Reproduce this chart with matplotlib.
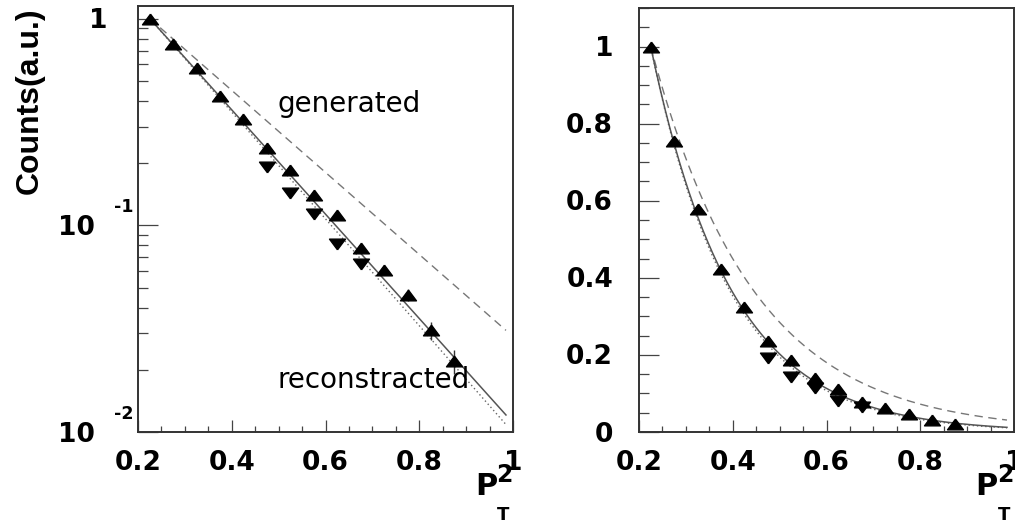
import numpy as np
import matplotlib
matplotlib.use("Agg")
import matplotlib.pyplot as plt
from matplotlib.ticker import MultipleLocator, LogLocator, NullFormatter

# ---- data: normalised P_T^2 spectra (bin centres, width 0.05) ----
pt2_up = [0.225, 0.275, 0.325, 0.375, 0.425, 0.475, 0.525,
          0.575, 0.625, 0.675, 0.725, 0.775, 0.825, 0.875]
counts_up = [1.0, 0.755, 0.578, 0.422, 0.325, 0.237, 0.186,
             0.140, 0.112, 0.078, 0.061, 0.046, 0.031, 0.022]
err_up = [0.003, 0.003, 0.003, 0.003, 0.003, 0.003, 0.003,
          0.003, 0.003, 0.003, 0.003, 0.003, 0.003, 0.003]

pt2_down = [0.475, 0.525, 0.575, 0.625, 0.675]
counts_down = [0.192, 0.143, 0.113, 0.081, 0.065]

# exponential fits  N = exp(-b (P_T^2 - x0))
fit_x0 = 0.225
fit_x1 = 0.985
slope_generated = 4.57      # dashed
slope_reconstructed = 5.81  # solid
slope_dotted = 5.95         # dotted

x_ticks = [0.2, 0.4, 0.6, 0.8, 1.0]
x_tick_labels = ["0.2", "0.4", "0.6", "0.8", "1"]
lin_y_ticks = [0.0, 0.2, 0.4, 0.6, 0.8, 1.0]
lin_y_tick_labels = ["0", "0.2", "0.4", "0.6", "0.8", "1"]
log_y_ticks = [1.0, 0.1, 0.01]
log_y_exponents = [None, "-1", "-2"]

# ---- figure layout (pixel based) ----
W, H = 1015, 523
fig = plt.figure(figsize=(W / 100, H / 100), dpi=100)


def px_axes(left, right, top, bottom):
    return fig.add_axes([left / W, 1 - bottom / H, (right - left) / W, (bottom - top) / H])


axL = px_axes(138, 513, 6, 432)
axR = px_axes(639, 1014, 8, 432)

FRAME = "#333333"
TICKC = "#444444"
BOLD = dict(family="DejaVu Sans", fontweight="bold")

up_tri = [(0, 0.67), (-1, -0.67), (1, -0.67), (0, 0.67)]
down_tri = [(0, -0.67), (-1, 0.67), (1, 0.67), (0, -0.67)]

xfit = np.linspace(fit_x0, fit_x1, 300)


def draw_panel(ax):
    ax.plot(xfit, np.exp(-slope_generated * (xfit - fit_x0)), color="#777777",
            lw=1.0, dashes=(6, 4), zorder=2)
    ax.plot(xfit, np.exp(-slope_dotted * (xfit - fit_x0)), color="#666666",
            lw=1.0, dashes=(1, 2), zorder=2)
    ax.plot(xfit, np.exp(-slope_reconstructed * (xfit - fit_x0)), color="#555555",
            lw=1.1, zorder=2)
    ax.errorbar(pt2_up, counts_up, yerr=err_up, fmt="none", ecolor="#333333",
                elinewidth=1.0, zorder=3)
    ax.plot(pt2_down, counts_down, linestyle="none", marker=down_tri,
            markersize=11.5, color="black", zorder=4)
    ax.plot(pt2_up, counts_up, linestyle="none", marker=up_tri,
            markersize=11.5, color="black", zorder=5)

    ax.set_xlim(0.2, 1.0)
    for sp in ax.spines.values():
        sp.set_color(FRAME)
        sp.set_linewidth(1.4)
    ax.xaxis.set_major_locator(MultipleLocator(0.2))
    ax.xaxis.set_minor_locator(MultipleLocator(0.05))
    ax.tick_params(axis="x", which="major", direction="in", length=8.6, width=0.9,
                   color=TICKC, top=False, labelbottom=False)
    ax.tick_params(axis="x", which="minor", direction="in", length=4.3, width=0.9,
                   color=TICKC, top=False)
    ax.tick_params(axis="y", which="major", direction="in", length=14.4, width=0.9,
                   color=TICKC, right=False, labelleft=False)
    ax.tick_params(axis="y", which="minor", direction="in", length=7.2, width=0.9,
                   color=TICKC, right=False)

    # x tick labels
    for v, s in zip(x_ticks, x_tick_labels):
        ax.annotate(s, xy=(v, 0), xycoords=("data", "axes fraction"),
                    xytext=(0, -38), textcoords="offset pixels",
                    ha="center", va="baseline", fontsize=19,
                    annotation_clip=False, **BOLD)

    # axis title  P_T^2
    ax.annotate("P", xy=(1, 0), xycoords="axes fraction", xytext=(-16, -63),
                textcoords="offset pixels", ha="right", va="baseline",
                fontsize=22, annotation_clip=False, **BOLD)
    ax.annotate("2", xy=(1, 0), xycoords="axes fraction", xytext=(-17, -50),
                textcoords="offset pixels", ha="left", va="baseline",
                fontsize=17, annotation_clip=False, **BOLD)
    ax.annotate("T", xy=(1, 0), xycoords="axes fraction", xytext=(-16, -88),
                textcoords="offset pixels", ha="left", va="baseline",
                fontsize=13, annotation_clip=False, **BOLD)


# ---- left panel: logarithmic ----
draw_panel(axL)
axL.set_yscale("log")
axL.set_ylim(0.01, 1.15)
axL.yaxis.set_major_locator(LogLocator(base=10))
axL.yaxis.set_minor_locator(LogLocator(base=10, subs=np.arange(2, 10)))
axL.yaxis.set_major_formatter(NullFormatter())
axL.yaxis.set_minor_formatter(NullFormatter())
axL.tick_params(axis="y", which="both", labelleft=False)

for v, ex in zip(log_y_ticks, log_y_exponents):
    if ex is None:
        axL.annotate("1", xy=(0, v), xycoords=("axes fraction", "data"),
                     xytext=(-31, -9), textcoords="offset pixels",
                     ha="right", va="baseline", fontsize=19,
                     annotation_clip=False, **BOLD)
    else:
        axL.annotate("10", xy=(0, v), xycoords=("axes fraction", "data"),
                     xytext=(-43, -10), textcoords="offset pixels",
                     ha="right", va="baseline", fontsize=19,
                     annotation_clip=False, **BOLD)
        axL.annotate(ex, xy=(0, v), xycoords=("axes fraction", "data"),
                     xytext=(-24, 13), textcoords="offset pixels",
                     ha="left", va="baseline", fontsize=12.5,
                     annotation_clip=False, **BOLD)

axL.text(0.497, 0.352, "generated", ha="left", va="baseline",
         fontsize=20, family="DejaVu Sans", color="black", zorder=6)
axL.text(0.497, 0.0164, "reconstracted", ha="left", va="baseline",
         fontsize=20, family="DejaVu Sans", color="black", zorder=6)

fig.text(30 / W, 1 - 101 / H, "Counts(a.u.)", rotation=90, ha="center",
         va="center", fontsize=23, family="Liberation Sans", fontweight="bold")

# ---- right panel: linear ----
draw_panel(axR)
axR.set_ylim(0.0, 1.10)
axR.yaxis.set_major_locator(MultipleLocator(0.2))
axR.yaxis.set_minor_locator(MultipleLocator(0.05))
axR.yaxis.set_major_formatter(NullFormatter())
for v, s in zip(lin_y_ticks, lin_y_tick_labels):
    axR.annotate(s, xy=(0, v), xycoords=("axes fraction", "data"),
                 xytext=(-26, -9.5), textcoords="offset pixels",
                 ha="right", va="baseline", fontsize=19,
                 annotation_clip=False, **BOLD)

fig.savefig("out.png", dpi=100)
